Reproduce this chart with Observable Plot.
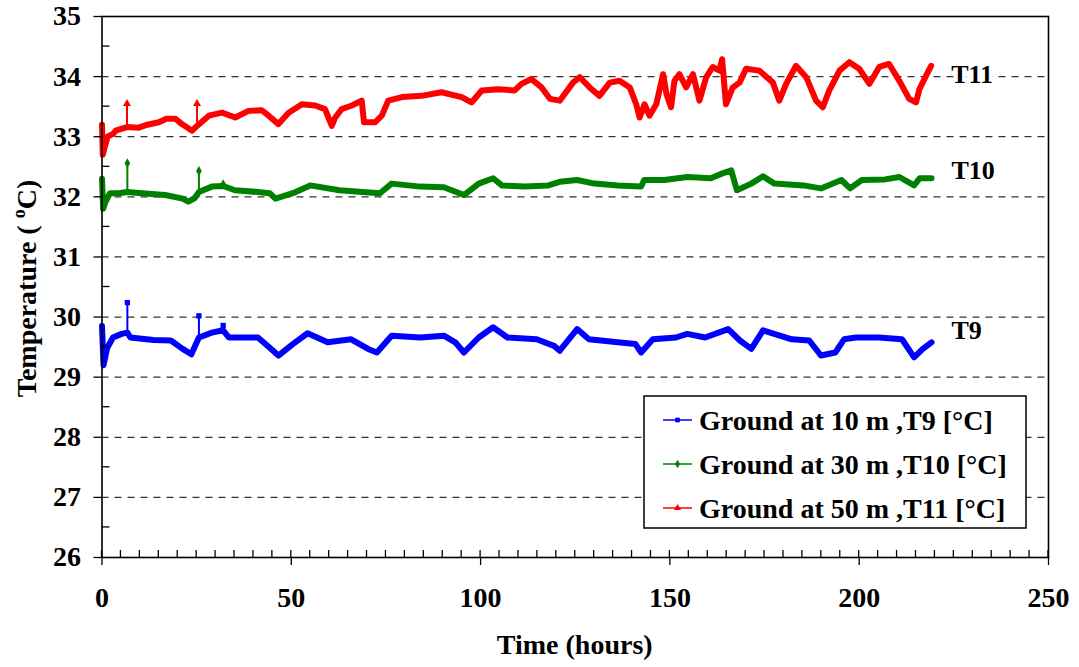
<!DOCTYPE html>
<html><head><meta charset="utf-8">
<script src="https://cdn.jsdelivr.net/npm/d3@7"></script>
<script src="https://cdn.jsdelivr.net/npm/@observablehq/plot@0.6"></script>
<style>
body{margin:0;background:#fff;}
svg{font-family:"Liberation Serif","Times New Roman",serif;font-weight:bold;}
</style>
</head><body><div id="chart"></div>
<script>
// ---- data: [time (hours), temperature (°C)] ----
const seriesNames = ["Ground at 10 m ,T9 [°C]", "Ground at 30 m ,T10 [°C]", "Ground at 50 m ,T11 [°C]"];
const seriesShort = ["T9", "T10", "T11"];
const seriesColors = ["#0000ff", "#008000", "#ff0000"];
const seriesSymbols = ["square", "diamond", "triangle"];

const t9 = [[0,29.85],[0.4,29.2],[1.4,29.49],[2.9,29.66],[5.2,29.72],[6.7,29.74],[7.5,29.66],[13.6,29.62],[18.2,29.61],[21.3,29.47],[23.6,29.38],[25.6,29.66],[29,29.74],[32,29.78],[33.5,29.66],[41.2,29.66],[44.3,29.49],[46.6,29.36],[50.4,29.55],[54.3,29.73],[59.6,29.58],[65.8,29.63],[70.3,29.47],[72.6,29.41],[76.5,29.69],[84.1,29.66],[90.3,29.69],[93.3,29.58],[95.6,29.41],[99.5,29.66],[103.3,29.83],[107.1,29.66],[114.8,29.63],[119.4,29.52],[120.9,29.44],[125.5,29.8],[128.6,29.63],[136.2,29.58],[140.9,29.55],[142.4,29.41],[145.5,29.63],[151.6,29.66],[154.6,29.72],[159.3,29.66],[165.4,29.8],[168.5,29.61],[171.5,29.47],[174.6,29.78],[182.2,29.63],[186.8,29.61],[189.9,29.36],[193.7,29.41],[196,29.63],[199.1,29.66],[205.2,29.66],[211.3,29.63],[214.5,29.33],[216.8,29.47],[219.1,29.58]];

const t10 = [[0,32.3],[0.3,31.8],[0.8,31.9],[2.1,32.06],[4.4,32.06],[6.7,32.08],[10.5,32.06],[16.7,32.03],[21.3,31.97],[22.8,31.92],[24.5,31.98],[25.6,32.08],[29,32.17],[32,32.18],[35.1,32.11],[41.2,32.08],[44.3,32.06],[45.8,31.97],[50.4,32.06],[55,32.19],[62.7,32.11],[68.8,32.08],[73.4,32.06],[76.5,32.22],[84.1,32.17],[90.3,32.16],[95.6,32.03],[99.5,32.22],[103.3,32.31],[105.6,32.19],[111.7,32.17],[117.9,32.19],[120.9,32.25],[125.5,32.28],[130.1,32.22],[136.2,32.19],[142.4,32.17],[143.2,32.28],[148.5,32.28],[154.6,32.33],[160.8,32.31],[163.9,32.39],[166.2,32.44],[167.7,32.11],[171.5,32.22],[174.6,32.34],[177.6,32.22],[185.3,32.19],[189.9,32.14],[195.3,32.28],[197.6,32.14],[200.7,32.28],[206.8,32.29],[210.6,32.33],[214.5,32.19],[216,32.31],[219.1,32.31]];

const t11 = [[0,33.2],[0.2,32.7],[0.6,32.8],[1.5,33.0],[3,33.05],[3.6,33.1],[6.6,33.16],[9.7,33.15],[12,33.2],[15,33.24],[17,33.3],[19.4,33.3],[21.1,33.21],[23.8,33.1],[25.1,33.18],[28.2,33.35],[31.7,33.4],[35.2,33.32],[38.7,33.43],[42.2,33.44],[44,33.35],[46.6,33.21],[49.3,33.4],[52.8,33.54],[56.3,33.52],[58.9,33.46],[60.7,33.18],[61.6,33.32],[63.3,33.46],[66,33.52],[68.6,33.6],[69.2,33.24],[72.1,33.24],[73.9,33.35],[75.6,33.6],[79.2,33.66],[84.4,33.68],[89.7,33.74],[95,33.66],[97.6,33.57],[100.3,33.77],[104.6,33.79],[109,33.77],[110.8,33.88],[113.4,33.96],[116.1,33.82],[118.3,33.63],[120.9,33.6],[124.4,33.9],[126.2,33.99],[128.8,33.82],[131.4,33.68],[134.1,33.9],[136.7,33.93],[139.4,33.82],[141.1,33.54],[142,33.32],[143.3,33.54],[144.6,33.35],[146.4,33.54],[148.2,34.04],[149.1,33.71],[150.3,33.49],[151.2,33.93],[152.5,34.04],[154.3,33.82],[156.1,34.04],[157.8,33.6],[159.6,33.99],[161.3,34.16],[163.1,34.1],[163.8,34.29],[164.8,33.54],[166.6,33.82],[168.4,33.9],[170.1,34.13],[173.6,34.1],[177.2,33.9],[178.9,33.6],[180.7,33.88],[183.3,34.18],[186,33.99],[188.6,33.6],[190.4,33.49],[192.1,33.77],[194.8,34.1],[197.4,34.24],[200,34.13],[202.7,33.88],[205.3,34.16],[207.9,34.21],[210.6,33.93],[213.2,33.63],[215,33.57],[215.9,33.79],[217.7,34.02],[219,34.18]];

// spikes: [time, base, peak]
const t9Spikes = [[6.7,29.74,30.24],[25.6,29.66,30.02],[32,29.72,29.86]];
const t10Spikes = [[6.7,32.08,32.56],[25.6,32.08,32.43],[32,32.15,32.21]];
const t11Spikes = [[6.6,33.16,33.55],[25.1,33.18,33.55]];

const xTicks = [0, 50, 100, 150, 200, 250];
const yTicks = [26, 27, 28, 29, 30, 31, 32, 33, 34, 35];
const gridY = [27, 28, 29, 30, 31, 32, 33, 34];
const xMinor = d3.range(0, 251, 5);
const yMinor = d3.range(26.5, 35, 1);

// ---- build tables ----
const seriesData = [t9, t10, t11];
const spikeData = [t9Spikes, t10Spikes, t11Spikes];
const rows = [];
seriesData.forEach((s, i) => s.forEach(([time, temp]) => rows.push({series: seriesNames[i], time, temp})));
const spikes = [];
spikeData.forEach((s, i) => s.forEach(([time, base, peak]) => spikes.push({series: seriesNames[i], symbol: seriesSymbols[i], time, base, peak})));
const labelDy = [-12, -8, 9];
const endLabelMarks = seriesData.map((s, i) =>
  Plot.text([{label: seriesShort[i], time: s[s.length - 1][0], temp: s[s.length - 1][1]}],
    {x: "time", y: "temp", text: "label", dx: 20, dy: labelDy[i], textAnchor: "start", fontSize: 26, fontWeight: "bold",
     fill: "black", stroke: "white", strokeWidth: 8, paintOrder: "stroke"}));

const plot = Plot.plot({
  width: 1079,
  height: 667,
  marginLeft: 101.5,
  marginRight: 31,
  marginTop: 16,
  marginBottom: 110,
  style: {fontFamily: "'Liberation Serif', 'Times New Roman', serif", fontWeight: "bold", background: "white", overflow: "visible"},
  x: {domain: [0, 250]},
  y: {domain: [26, 35]},
  color: {domain: seriesNames, range: seriesColors},
  marks: [
    Plot.ruleY(gridY, {stroke: "#333", strokeWidth: 1.2, strokeDasharray: "7,6"}),
    Plot.line(rows, {x: "time", y: "temp", z: "series", stroke: "series", strokeWidth: 6, strokeLinejoin: "round", strokeLinecap: "round"}),
    Plot.ruleX(spikes, {x: "time", y1: "base", y2: "peak", stroke: "series", strokeWidth: 2}),
    Plot.dot(spikes, {x: "time", y: "peak", fill: "series", symbol: "symbol", r: 3}),
    Plot.frame({stroke: "black", strokeWidth: 1.6}),
    Plot.axisY({ticks: yTicks, tickSize: 8, tickPadding: 13, fontSize: 28, tickFormat: d => d, label: null, strokeWidth: 1.3}),
    Plot.axisX({ticks: xTicks, tickSize: 8, tickPadding: 22, fontSize: 28, tickFormat: d => d, label: null, strokeWidth: 1.3}),
    ...endLabelMarks
  ]
});

const svg = d3.select(plot);
const xs = plot.scale("x"), ys = plot.scale("y");
const x0 = xs.apply(0), yBase = ys.apply(26);

// minor ticks (inside)
const minor = svg.append("g").attr("stroke", "black").attr("stroke-width", 1.3);
xMinor.forEach(v => {
  const px = xs.apply(v);
  minor.append("line").attr("x1", px).attr("x2", px).attr("y1", yBase).attr("y2", yBase - 7);
});
yMinor.forEach(v => {
  const py = ys.apply(v);
  minor.append("line").attr("x1", x0).attr("x2", x0 + 8).attr("y1", py).attr("y2", py);
});

// axis titles
svg.append("text").attr("x", (xs.apply(0) + xs.apply(250)) / 2).attr("y", 654)
  .attr("text-anchor", "middle").attr("font-size", 28).attr("font-weight", "bold").attr("fill", "black")
  .text("Time (hours)");
const yt = svg.append("text").attr("transform", `translate(36,${(ys.apply(26) + ys.apply(35)) / 2 + 2}) rotate(-90)`)
  .attr("text-anchor", "middle").attr("font-size", 28).attr("font-weight", "bold").attr("fill", "black");
yt.append("tspan").text("Temperature ( ");
yt.append("tspan").attr("font-size", 18).attr("dy", -11).text("o");
yt.append("tspan").attr("dy", 11).text("C)");

// legend
const lg = svg.append("g").attr("text-anchor", "start");
lg.append("rect").attr("x", 644).attr("y", 396).attr("width", 382).attr("height", 132)
  .attr("fill", "white").attr("stroke", "black").attr("stroke-width", 1.5);
const baselines = [430, 474, 518];
const d3Symbols = [d3.symbolSquare, d3.symbolDiamond, d3.symbolTriangle];
seriesNames.forEach((name, i) => {
  const cy = baselines[i] - 10;
  lg.append("line").attr("x1", 663).attr("x2", 692).attr("y1", cy).attr("y2", cy)
    .attr("stroke", seriesColors[i]).attr("stroke-width", 1.5);
  lg.append("path").attr("transform", `translate(677.5,${cy})`)
    .attr("d", d3.symbol(d3Symbols[i], 22)())
    .attr("fill", seriesColors[i]);
  lg.append("text").attr("x", 699).attr("y", baselines[i]).attr("text-anchor", "start")
    .attr("font-size", 28).attr("font-weight", "bold").attr("fill", "black").text(name);
});

document.getElementById("chart").appendChild(plot);
</script>
</body></html>
